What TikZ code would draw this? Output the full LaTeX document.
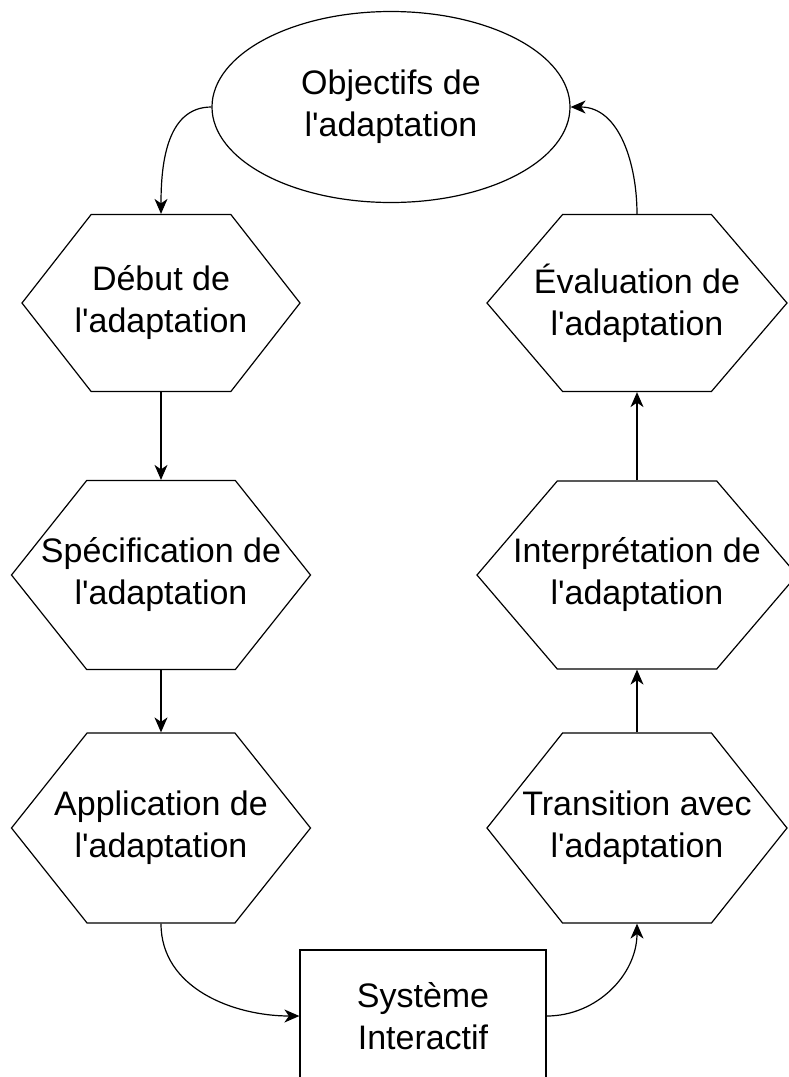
\documentclass[tikz,border=0pt]{standalone}
\usepackage{fontspec}
\setmainfont{Liberation Sans}[Ligatures=TeXOff]
\usetikzlibrary{shapes, shapes.symbols, arrows.meta, positioning}

\begin{document}
\begin{tikzpicture}[x=1pt, y=-1pt, line width=1.2pt,
        hexa/.style={draw, signal, signal to=west and east, inner sep=0pt},
        lbl/.style={align=center, font=\fontsize{34}{42}\selectfont},
        conn/.style={-{Stealth[length=15pt, width=13pt, inset=4.5pt]}}]
        \useasboundingbox (0, 0) rectangle (788, 1077);
        \node [draw, ellipse, minimum width=358pt, minimum height=191pt, inner sep=0pt, lbl] (obj) at (391, 107) { Objectifs de\\l'adaptation };
        \node [hexa, minimum width=278pt, minimum height=177pt, signal pointer angle=104] (debut) at (161, 303) {}; \node [lbl] (debut-t) at (debut) { Début de\\l'adaptation };
        \node [hexa, minimum width=299pt, minimum height=189pt, signal pointer angle=103] (spec) at (161, 575) {}; \node [lbl] (spec-t) at (spec) { Spécification de\\l'adaptation };
        \node [hexa, minimum width=299pt, minimum height=190pt, signal pointer angle=103] (appl) at (161, 828) {}; \node [lbl] (appl-t) at (appl) { Application de\\l'adaptation };
        \node [hexa, minimum width=300pt, minimum height=177pt, signal pointer angle=99] (eval) at (637, 303) {}; \node [lbl] (eval-t) at (eval) { Évaluation de\\l'adaptation };
        \node [hexa, minimum width=320pt, minimum height=188pt, signal pointer angle=99] (interp) at (637, 575) {}; \node [lbl] (interp-t) at (interp) { Interprétation de\\l'adaptation };
        \node [hexa, minimum width=300pt, minimum height=190pt, signal pointer angle=103] (trans) at (637, 828) {}; \node [lbl] (trans-t) at (trans) { Transition avec\\l'adaptation };
        \node [draw, rectangle, minimum width=246pt, minimum height=132pt, inner sep=0pt, lbl] (sys) at (423, 1016) { Système\\Interactif };
        \draw [conn] (obj.west) to [out=180, in=90] (debut.north);
        \draw [conn] (debut) -- (spec);
        \draw [conn] (spec) -- (appl);
        \draw [conn] (appl.south) to [out=-90, in=180] (sys.west);
        \draw [conn] (sys.east) to [out=0, in=-90] (trans.south);
        \draw [conn] (trans) -- (interp);
        \draw [conn] (interp) -- (eval);
        \draw [conn] (eval.north) to [out=90, in=0] (obj.east);
    \end{tikzpicture}
\end{document}
